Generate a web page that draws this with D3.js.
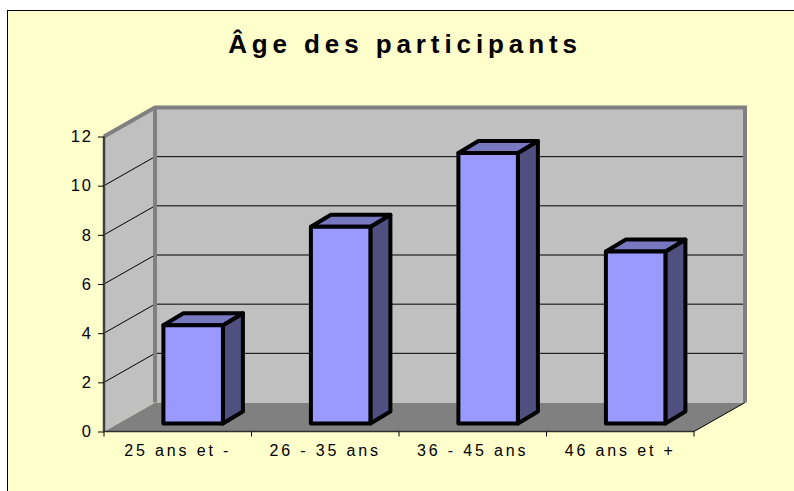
<!DOCTYPE html>
<html><head><meta charset="utf-8">
<script src="https://cdn.jsdelivr.net/npm/d3@7/dist/d3.min.js"></script>
<style>html,body{margin:0;padding:0;background:#fff}svg{display:block}text{font-family:"Liberation Sans",Arial,sans-serif;fill:#000}</style>
</head><body><svg id="c" width="794" height="491"></svg>
<script>
const chartTitle = "Âge des participants";
const categories = ["25 ans et -","26 - 35 ans","36 - 45 ans","46 ans et +"];
const counts = [4,8,11,7];
const yTicks = [0,2,4,6,8,10,12];

const svg = d3.select("#c");
svg.append("rect").attr("x",7.5).attr("y",10.5).attr("width",800).attr("height",500)
  .attr("fill","#FFFFCC").attr("stroke","#000").attr("stroke-width",1);

const x = d3.scaleBand().domain(categories).range([104,694]);
const y = d3.scaleLinear().domain([0,12]).range([431.5,136.5]);
const dx = 51, dy = -29;               // depth of the box
const barW = 59.5, barDx = 20, barDy = -12; // bar geometry
const barX = c => x(c) + (x.step()-barW)/2 + 15.4;
const barBase = 423.5;
const unit = y(0)-y(1);
const path = pts => "M"+pts.map(p=>p.join(",")).join("L")+"Z";

// floor and walls
const x0=104,x1=694,y0=y(0),yT=y(12);
svg.append("path").attr("d",path([[x0,y0],[x0+dx,y0+dy],[x1+dx,y0+dy],[x1,y0]])).attr("fill","#808080");
svg.append("path").attr("d",path([[x0,y0],[x0+dx,y0+dy],[x0+dx,yT+dy],[x0,yT]])).attr("fill","#C0C0C0");
svg.append("rect").attr("x",x0+dx).attr("y",yT+dy).attr("width",x1-x0).attr("height",y0-yT).attr("fill","#C0C0C0");

// gridlines
yTicks.filter(t=>t>0&&t<12).forEach(t=>{
  svg.append("path").attr("d",`M${x0},${y(t)}L${x0+dx},${y(t)+dy}L${x1+dx},${y(t)+dy}`)
    .attr("fill","none").attr("stroke","#000").attr("stroke-width",1);
});
// wall borders
svg.append("path").attr("d",`M${x0},${yT}L${x0+dx},${yT+dy}L${x1+dx},${yT+dy}L${x1+dx},${y0+dy}`)
  .attr("fill","none").attr("stroke","#808080").attr("stroke-width",4);
svg.append("path").attr("d",`M${x0+dx},${yT+dy}L${x0+dx},${y0+dy}`)
  .attr("fill","none").attr("stroke","#808080").attr("stroke-width",4);
svg.append("path").attr("d",`M${x1},${y0}L${x1+dx},${y0+dy}`)
  .attr("fill","none").attr("stroke","#000").attr("stroke-width",1);

// bars
const g = svg.append("g").attr("stroke","#000").attr("stroke-width",4).attr("stroke-linejoin","round");
categories.forEach((c,i)=>{
  const l=barX(c), r=l+barW, b=barBase, t=b-counts[i]*unit;
  g.append("path").attr("d",path([[r,b],[r+barDx,b+barDy],[r+barDx,t+barDy],[r,t]])).attr("fill","#4F4F80");
  g.append("path").attr("d",path([[l,t],[l+barDx,t+barDy],[r+barDx,t+barDy],[r,t]])).attr("fill","#7878C0");
  g.append("rect").attr("x",l).attr("y",t).attr("width",barW).attr("height",b-t).attr("fill","#9999FF");
});

// axes
const ax = svg.append("g").attr("transform","translate(104,0)")
  .call(d3.axisLeft(y).tickValues(yTicks).tickSize(6).tickPadding(5));
ax.select(".domain").attr("stroke","#404040").attr("stroke-width",2.5).attr("d",`M0,${yT}V${y0}`);
ax.selectAll("text").attr("font-size",16.5).attr("font-family","Liberation Sans").attr("letter-spacing",2).attr("fill","#000");

const bx = svg.append("g").attr("transform",`translate(0,${y0})`)
  .call(d3.axisBottom(x).tickSize(0).tickPadding(13.5));
bx.select(".domain").attr("stroke","#303030").attr("stroke-width",1.5).attr("d",`M${x0},0H${x1}`);
bx.selectAll("text").attr("font-size",16).attr("font-family","Liberation Sans").attr("letter-spacing",2.85).attr("fill","#000");
const edges = categories.map(c=>x(c)).concat([x1]);
svg.append("g").selectAll("line").data(edges).join("line")
  .attr("x1",d=>d).attr("x2",d=>d).attr("y1",y0).attr("y2",y0+5).attr("stroke","#000");

// title
svg.append("text").attr("x",405).attr("y",53).attr("text-anchor","middle")
  .attr("font-size",26).attr("font-weight","bold").attr("letter-spacing",4.9).text(chartTitle);
</script></body></html>
